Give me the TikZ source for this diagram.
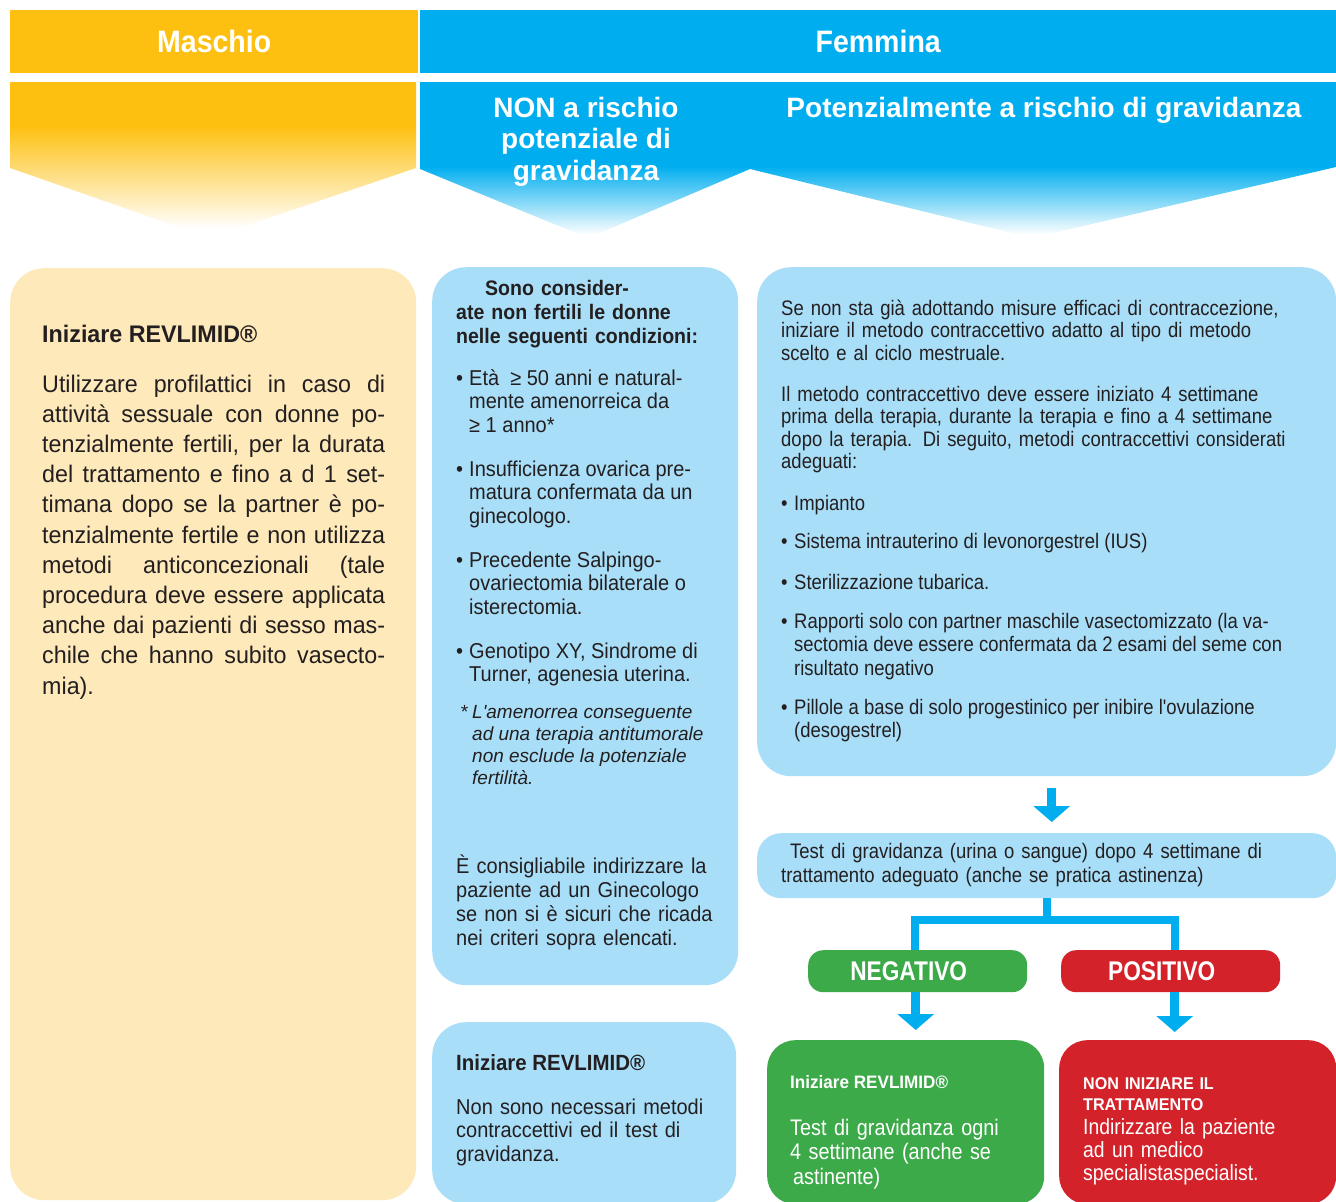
\documentclass[tikz,border=0pt]{standalone}
\usepackage{fontspec}
\setmainfont{Liberation Sans}[FakeStretch=0.88]
\newfontfamily\fH{Liberation Sans}[FakeStretch=0.92]
\newfontfamily\fC{Liberation Sans}[FakeStretch=1.0]
\newfontfamily\fA{Liberation Sans}[FakeStretch=0.97]
\newfontfamily\fB{Liberation Sans}[FakeStretch=0.93]
\newfontfamily\fR{Liberation Sans}[FakeStretch=0.88]
\newfontfamily\fS{Liberation Sans}[FakeStretch=0.95]
\newfontfamily\fN{Liberation Sans}[FakeStretch=0.84]
\usetikzlibrary{arrows.meta}
\definecolor{gold}{HTML}{FDC010}
\definecolor{cyanb}{HTML}{00AEEF}
\definecolor{paleor}{HTML}{FEE9BA}
\definecolor{paleb}{HTML}{A9DEF8}
\definecolor{grn}{HTML}{3DAA4A}
\definecolor{rd}{HTML}{D3222A}
\definecolor{ink}{HTML}{231F20}
\pgfdeclareverticalshading{goldfade}{100bp}{color(0bp)=(white); color(28bp)=(white); color(61bp)=(gold); color(100bp)=(gold)}
\pgfdeclareverticalshading{bluefade}{100bp}{color(0bp)=(white); color(26bp)=(white); color(48bp)=(cyanb); color(100bp)=(cyanb)}
\newcommand\bitem[2][265pt]{\makebox[13pt][l]{\textbullet}\parbox[t]{#1}{\raggedright #2}}
\begin{document}
\begin{tikzpicture}[x=1pt,y=-1pt,
  hdr/.style={anchor=north west, inner sep=0pt, text=white, font=\fH\bfseries\fontsize{31}{31}\selectfont},
  chevtxt/.style={inner sep=0pt, text=white, align=center, font=\fC\bfseries\fontsize{28}{31.5}\selectfont},
  panel/.style={anchor=north west, inner sep=0pt, rounded corners=34pt},
  txt/.style={anchor=base west, inner sep=0pt, text=ink, align=left},
  conn/.style={draw=cyanb, line width=8pt},
  arr/.style={draw=cyanb, line width=9pt, -{Triangle[width=36pt,length=16pt]}}]
\useasboundingbox (0,0) rectangle (1336,1202);
% header row
\node[hdr, fill=gold, minimum width=408pt, minimum height=63pt] (hm) at (10,10) {Maschio};
\node[hdr, fill=cyanb, minimum width=916pt, minimum height=63pt] (hf) at (420,10) {Femmina};
% chevrons
\shade[shading=goldfade] (10,82) -- (416,82) -- (416,168) -- (210,238) -- (10,168) -- cycle;
\shade[shading=bluefade] (420,82) -- (750,82) -- (750,169) -- (588,238) -- (420,169) -- cycle;
\shade[shading=bluefade] (750,82) -- (1336,82) -- (1336,167) -- (1032,238) -- (750,169) -- cycle;
\node[chevtxt, anchor=north] (nonlab) at (586,97) {NON a rischio\\potenziale di\\gravidanza};
\node[chevtxt, anchor=north] (potlab) at (1044,97) {Potenzialmente a rischio di gravidanza};
% panels
\node[panel, fill=paleor, minimum width=406pt, minimum height=932pt] (mbox) at (10,268) {};
\node[panel, fill=paleb, minimum width=306pt, minimum height=718pt] (nbox) at (432,267) {};
\node[panel, fill=paleb, minimum width=304pt, minimum height=182pt] (nbox2) at (432,1022) {};
\node[panel, fill=paleb, minimum width=579pt, minimum height=509pt] (rbox) at (757,267) {};
\node[panel, fill=paleb, rounded corners=24pt, minimum width=579pt, minimum height=65pt] (test) at (757,833) {};
% connectors
\coordinate (split) at ([yshift=-22pt]test.south);
\draw[conn] (test.south) -- (split);
\draw[conn] (split) -| (915,952);
\draw[conn] (split) -| (1175,952);
\draw[arr] ([xshift=5pt,yshift=-12pt]rbox.south) -- ([xshift=5pt,yshift=11pt]test.north);
\node[panel, fill=grn, rounded corners=15pt, minimum width=219pt, minimum height=42pt, text=white, font=\fN\bfseries\fontsize{27}{27}\selectfont] (neg) at (808,950) {NEGATIVO\hspace*{18pt}};
\node[panel, fill=rd, rounded corners=15pt, minimum width=219pt, minimum height=42pt, text=white, font=\fN\bfseries\fontsize{27}{27}\selectfont] (pos) at (1061,950) {POSITIVO\hspace*{18pt}};
\node[panel, fill=grn, rounded corners=28pt, minimum width=277pt, minimum height=164pt] (gbox) at (767,1040) {};
\node[panel, fill=rd, rounded corners=28pt, minimum width=277pt, minimum height=164pt] (redbox) at (1059,1040) {};
\draw[arr] ([xshift=-2pt]neg.south) -- ([xshift=-2pt,yshift=10pt]neg.south |- gbox.north);
\draw[arr] ([xshift=4pt]pos.south) -- ([xshift=4pt,yshift=8pt]pos.south |- redbox.north);
% left box text
\node[txt, font=\fA\bfseries\fontsize{24}{30}\selectfont] (mt1) at (42,342) {Iniziare REVLIMID®};
\node[txt, text width=343pt, align=justify, font=\fA\fontsize{24}{30.2}\selectfont] (mt2) at (42,392) {\hyphenpenalty=10000\tolerance=10000\emergencystretch=20pt Utilizzare profilattici in caso di\linebreak attività sessuale con donne po-\linebreak tenzialmente fertili, per la durata\linebreak del trattamento e fino a d 1 set-\linebreak timana dopo se la partner è po-\linebreak tenzialmente fertile e non utilizza\linebreak metodi anticoncezionali (tale\linebreak procedura deve essere applicata\linebreak anche dai pazienti di sesso mas-\linebreak chile che hanno subito vasecto-\linebreak mia).};
% middle box text
\node[txt, text width=290pt, font=\fB\bfseries\fontsize{21}{24}\selectfont] (nt1) at (456,295) {\hspace*{29pt}Sono consider-\\ate non fertili le donne\\nelle seguenti condizioni:};
\node[txt, font=\fB\fontsize{21.5}{23.5}\selectfont] (nb1) at (456,385) {\bitem{Età \ ≥ 50 anni e natural-\\mente amenorreica da\\≥ 1 anno*}};
\node[txt, font=\fB\fontsize{21.5}{23.5}\selectfont] (nb2) at (456,476) {\bitem{Insufficienza ovarica pre-\\matura confermata da un\\ginecologo.}};
\node[txt, font=\fB\fontsize{21.5}{23.5}\selectfont] (nb3) at (456,567) {\bitem{Precedente Salpingo-\\ovariectomia bilaterale o\\isterectomia.}};
\node[txt, font=\fB\fontsize{21.5}{23.5}\selectfont] (nb4) at (456,658) {\bitem{Genotipo XY, Sindrome di\\Turner, agenesia uterina.}};
\node[txt, font=\fC\itshape\fontsize{19}{22}\selectfont] (nfn) at (460,718) {\makebox[12pt][l]{*}\parbox[t]{265pt}{\raggedright L'amenorrea conseguente\\ad una terapia antitumorale\\non esclude la potenziale\\fertilità.}};
\node[txt, text width=290pt, font=\fB\fontsize{21.5}{24}\selectfont] (nt2) at (456,873) {È consigliabile indirizzare la\\paziente ad un Ginecologo\\se non si è sicuri che ricada\\nei criteri sopra elencati.};
\node[txt, font=\fB\bfseries\fontsize{22}{24}\selectfont] (nt3) at (456,1070) {Iniziare REVLIMID®};
\node[txt, text width=290pt, font=\fB\fontsize{21.5}{23.5}\selectfont] (nt4) at (456,1114) {Non sono necessari metodi\\contraccettivi ed il test di\\gravidanza.};
% right box text
\node[txt, text width=545pt, font=\fR\fontsize{21}{22.5}\selectfont] (rt1) at (781,315) {Se non sta già adottando misure efficaci di contraccezione,\\iniziare il metodo contraccettivo adatto al tipo di metodo\\scelto e al ciclo mestruale.};
\node[txt, text width=545pt, font=\fR\fontsize{21}{22.5}\selectfont] (rt2) at (781,401) {Il metodo contraccettivo deve essere iniziato 4 settimane\\prima della terapia, durante la terapia e fino a 4 settimane\\dopo la terapia. Di seguito, metodi contraccettivi considerati\\adeguati:};
\node[txt, font=\fR\fontsize{21}{23.5}\selectfont] (rb1) at (781,510) {\bitem[530pt]{Impianto}};
\node[txt, font=\fR\fontsize{21}{23.5}\selectfont] (rb2) at (781,548) {\bitem[530pt]{Sistema intrauterino di levonorgestrel (IUS)}};
\node[txt, font=\fR\fontsize{21}{23.5}\selectfont] (rb3) at (781,589) {\bitem[530pt]{Sterilizzazione tubarica.}};
\node[txt, font=\fR\fontsize{21}{23.8}\selectfont] (rb4) at (781,628) {\bitem[530pt]{Rapporti solo con partner maschile vasectomizzato (la va-\\sectomia deve essere confermata da 2 esami del seme con\\risultato negativo}};
\node[txt, font=\fR\fontsize{21}{23.8}\selectfont] (rb5) at (781,714) {\bitem[530pt]{Pillole a base di solo progestinico per inibire l'ovulazione\\(desogestrel)}};
% test box text
\node[txt, text width=560pt, font=\fR\fontsize{21}{24}\selectfont] (tt) at (781,858) {\hspace*{9pt}Test di gravidanza (urina o sangue) dopo 4 settimane di\\trattamento adeguato (anche se pratica astinenza)};
% green box text
\node[txt, text=white, font=\fS\bfseries\fontsize{18}{20}\selectfont] (gt1) at (790,1088) {Iniziare REVLIMID®};
\node[txt, text=white, text width=250pt, font=\fR\fontsize{22.5}{24.5}\selectfont] (gt2) at (790,1135) {Test di gravidanza ogni\\4 settimane (anche se\\\hspace*{3pt}astinente)};
% red box text
\node[txt, text=white, text width=250pt, font=\fS\bfseries\fontsize{17}{21}\selectfont] (pt1) at (1083,1089) {NON INIZIARE IL\\TRATTAMENTO};
\node[txt, text=white, text width=250pt, font=\fR\fontsize{22}{23}\selectfont] (pt2) at (1083,1134) {Indirizzare la paziente\\ad un medico\\specialistaspecialist.};
\end{tikzpicture}
\end{document}
